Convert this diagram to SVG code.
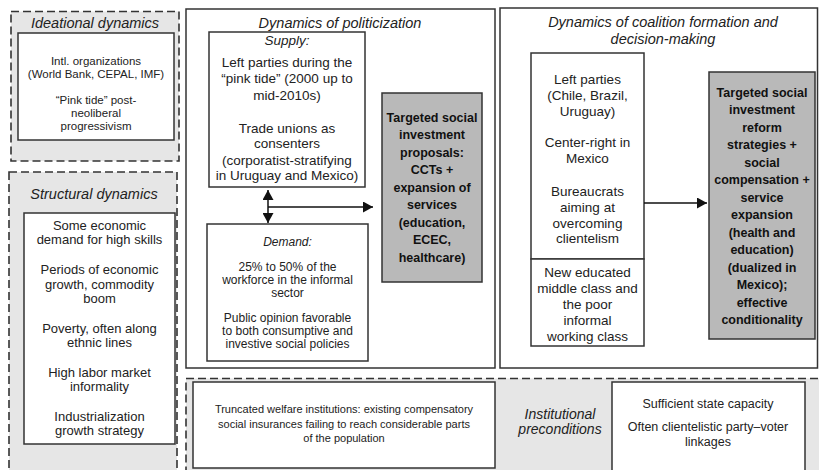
<svg xmlns="http://www.w3.org/2000/svg" width="819" height="470" viewBox="0 0 819 470">
<defs>
<style>
.dash{fill:#e6e6e6;stroke:#333;stroke-width:1.6;stroke-dasharray:8 4}
.solid{fill:#fff;stroke:#333;stroke-width:1.5}
.grey{fill:#b9b9b9;stroke:#333;stroke-width:1.5}
text{font-family:"Liberation Sans",Arial,sans-serif;fill:#222;text-anchor:middle}
.title{font-size:14.5px;font-style:italic}
.it{font-style:italic}
.b{font-weight:bold;font-size:12.5px;fill:#111}
.line{stroke:#111;stroke-width:1.5;fill:none}
</style>
<marker id="ah" viewBox="0 0 10 11" refX="10" refY="5.5" markerWidth="10" markerHeight="11" markerUnits="userSpaceOnUse" orient="auto-start-reverse">
<path d="M0,0 L10,5.5 L0,11 Z" fill="#111"/>
</marker>
</defs>

<g id="ideational">
<rect class="dash" x="11" y="11.5" width="168" height="149.5"/>
<text class="title" x="95" y="28">Ideational dynamics</text>
<rect class="solid" x="18" y="33" width="156" height="107"/>
<g font-size="11.5px">
<text x="96" y="65">Intl. organizations</text>
<text x="96" y="78">(World Bank, CEPAL, IMF)</text>
<text x="96" y="104">“Pink tide” post-</text>
<text x="96" y="117">neoliberal</text>
<text x="96" y="130">progressivism</text>
</g>
</g>

<g id="structural">
<rect class="dash" x="9" y="172" width="168" height="310"/>
<text class="title" x="94" y="199">Structural dynamics</text>
<rect class="solid" x="24" y="213" width="151" height="231"/>
<g font-size="13px">
<text x="99.5" y="229.5">Some economic</text>
<text x="99.5" y="244">demand for high skills</text>
<text x="99.5" y="274">Periods of economic</text>
<text x="99.5" y="288.5">growth, commodity</text>
<text x="99.5" y="303">boom</text>
<text x="99.5" y="332.5">Poverty, often along</text>
<text x="99.5" y="347">ethnic lines</text>
<text x="99.5" y="376.5">High labor market</text>
<text x="99.5" y="391">informality</text>
<text x="99.5" y="420.5">Industrialization</text>
<text x="99.5" y="435">growth strategy</text>
</g>
</g>

<g id="politicization">
<rect class="solid" x="186" y="9" width="309" height="359"/>
<text class="title" x="340" y="28">Dynamics of politicization</text>
</g>

<g id="supply">
<rect class="solid" x="209" y="32" width="156" height="155"/>
<g font-size="13.5px">
<text class="it" x="287" y="45">Supply:</text>
<text x="287" y="67">Left parties during the</text>
<text x="287" y="83">“pink tide” (2000 up to</text>
<text x="287" y="99.5">mid-2010s)</text>
<text x="287" y="132.5">Trade unions as</text>
<text x="287" y="148">consenters</text>
<text x="287" y="164.5">(corporatist-stratifying</text>
<text x="287" y="180">in Uruguay and Mexico)</text>
</g>
</g>

<g id="demand">
<rect class="solid" x="207" y="224" width="161" height="137"/>
<g font-size="12px">
<text class="it" x="287.5" y="246">Demand:</text>
<text x="287.5" y="271">25% to 50% of the</text>
<text x="287.5" y="284">workforce in the informal</text>
<text x="287.5" y="297">sector</text>
<text x="287.5" y="322">Public opinion favorable</text>
<text x="287.5" y="335">to both consumptive and</text>
<text x="287.5" y="348">investive social policies</text>
</g>
</g>

<g id="proposals">
<rect class="grey" x="382" y="93" width="100" height="189"/>
<text class="b" x="432" y="121.5">Targeted social</text>
<text class="b" x="432" y="139">investment</text>
<text class="b" x="432" y="156.5">proposals:</text>
<text class="b" x="432" y="174">CCTs +</text>
<text class="b" x="432" y="191.5">expansion of</text>
<text class="b" x="432" y="209">services</text>
<text class="b" x="432" y="226.5">(education,</text>
<text class="b" x="432" y="244">ECEC,</text>
<text class="b" x="432" y="261.5">healthcare)</text>
</g>

<g id="coalition">
<rect class="solid" x="500" y="8" width="317.5" height="360"/>
<text class="title" x="663" y="27">Dynamics of coalition formation and</text>
<text class="title" x="663" y="44">decision-making</text>
</g>

<g id="actors">
<rect class="solid" x="531" y="53" width="113" height="206"/>
<g font-size="13.5px">
<text x="587.5" y="84">Left parties</text>
<text x="587.5" y="100">(Chile, Brazil,</text>
<text x="587.5" y="116">Uruguay)</text>
<text x="587.5" y="147">Center-right in</text>
<text x="587.5" y="163">Mexico</text>
<text x="587.5" y="196">Bureaucrats</text>
<text x="587.5" y="212">aiming at</text>
<text x="587.5" y="227.5">overcoming</text>
<text x="587.5" y="243">clientelism</text>
</g>
</g>

<g id="classes">
<rect class="solid" x="531" y="259" width="113" height="87"/>
<g font-size="13.5px">
<text x="587.5" y="277">New educated</text>
<text x="587.5" y="293">middle class and</text>
<text x="587.5" y="309">the poor</text>
<text x="587.5" y="325">informal</text>
<text x="587.5" y="341">working class</text>
</g>
</g>

<g id="strategies">
<rect class="grey" x="709" y="72" width="106" height="267"/>
<text class="b" x="762" y="96.5">Targeted social</text>
<text class="b" x="762" y="114">investment</text>
<text class="b" x="762" y="131.5">reform</text>
<text class="b" x="762" y="149">strategies +</text>
<text class="b" x="762" y="166.5">social</text>
<text class="b" x="762" y="184">compensation +</text>
<text class="b" x="762" y="201.5">service</text>
<text class="b" x="762" y="219">expansion</text>
<text class="b" x="762" y="236.5">(health and</text>
<text class="b" x="762" y="254">education)</text>
<text class="b" x="762" y="271.5">(dualized in</text>
<text class="b" x="762" y="289">Mexico);</text>
<text class="b" x="762" y="306.5">effective</text>
<text class="b" x="762" y="324">conditionality</text>
</g>

<g id="institutional">
<rect class="dash" x="186" y="378.5" width="640" height="110"/>
<rect class="solid" x="193" y="382" width="302" height="86"/>
<g font-size="11px">
<text x="344" y="413">Truncated welfare institutions: existing compensatory</text>
<text x="344" y="427.5">social insurances failing to reach considerable parts</text>
<text x="344" y="442">of the population</text>
</g>
<text class="it" font-size="14px" x="560" y="418.5">Institutional</text>
<text class="it" font-size="14px" x="560" y="433.5">preconditions</text>
<rect class="solid" x="612" y="382" width="193" height="100"/>
<g font-size="12.5px">
<text x="708" y="407.5">Sufficient state capacity</text>
<text x="708" y="431">Often clientelistic party–voter</text>
<text x="708" y="445.5">linkages</text>
</g>
</g>

<g id="connectors">
<line class="line" x1="268" y1="190" x2="268" y2="223" marker-start="url(#ah)" marker-end="url(#ah)"/>
<line class="line" x1="268" y1="207" x2="373" y2="207" marker-end="url(#ah)"/>
<line class="line" x1="644" y1="203" x2="707" y2="203" marker-end="url(#ah)"/>
</g>
</svg>
